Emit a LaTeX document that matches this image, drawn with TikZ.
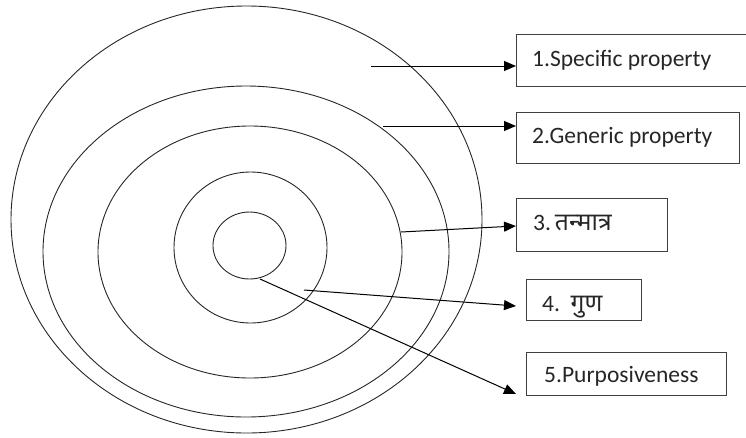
\documentclass[tikz,border=0pt]{standalone}
\usepackage{fontspec}
\setmainfont{Carlito}
\newfontfamily\deva[Script=Devanagari,Scale=1.05]{Noto Sans}
\usetikzlibrary{arrows.meta}
\begin{document}
\begin{tikzpicture}[x=1pt,y=-1pt,
  ring/.style={draw=black!85,line width=0.9pt},
  box/.style={draw=black!75,line width=1pt,inner sep=0pt,fill=none},
  lbl/.style={anchor=base west,inner sep=0pt,font=\fontsize{23.5}{26}\selectfont,text=black!85},
  arr/.style={draw=black,line width=1pt,-{Triangle[length=12pt,width=10pt]}}]
\useasboundingbox (0,0) rectangle (746,437);
% rings
\draw[ring] (246.5,219.5) ellipse [x radius=235.5,y radius=213.5];
\draw[ring] (246,251.5) ellipse [x radius=203,y radius=165.5];
\draw[ring] (250,252) ellipse [x radius=152,y radius=126];
\draw[ring] (250.5,247.5) ellipse [x radius=76.5,y radius=75.5];
\draw[ring] (249.5,245.5) ellipse [x radius=36.5,y radius=33.5];
% boxes
\node[box,minimum width=236pt,minimum height=52pt] (b1) at (634,60) {};
\node[box,minimum width=223pt,minimum height=51pt] (b2) at (627.5,137.5) {};
\node[box,minimum width=151pt,minimum height=53pt] (b3) at (591.5,224.5) {};
\node[box,minimum width=115pt,minimum height=41pt] (b4) at (583.5,299.5) {};
\node[box,minimum width=200pt,minimum height=43pt] (b5) at (626,373.5) {};
% labels
\node[lbl] (t1) at (532,66) {1.Specific property};
\node[lbl] (t2) at (532,143) {2.Generic property};
\node[lbl] (t3) at (533,230) {3.\,{\deva तन्मात्र}};
\node[lbl] (t4) at (542,311) {4.\ \ {\deva गुण}};
\node[lbl] (t5) at (544,382) {5.Purposiveness};
% arrow ends
\coordinate (s1) at (371,66);
\coordinate (s2) at (383,126);
\coordinate (s3) at (401,232);
\coordinate (s4) at (304,290);
\coordinate (s5) at (260,279);
\coordinate (e1) at (516,66);
\coordinate (e2) at (516,126);
\coordinate (e3) at (516,226);
\coordinate (e4) at (516,306);
\coordinate (e5) at (516,394);
\draw[arr] (s1) -- (e1);
\draw[arr] (s2) -- (e2);
\draw[arr] (s3) -- (e3);
\draw[arr] (s4) -- (e4);
\draw[arr] (s5) -- (e5);
\end{tikzpicture}
\end{document}
